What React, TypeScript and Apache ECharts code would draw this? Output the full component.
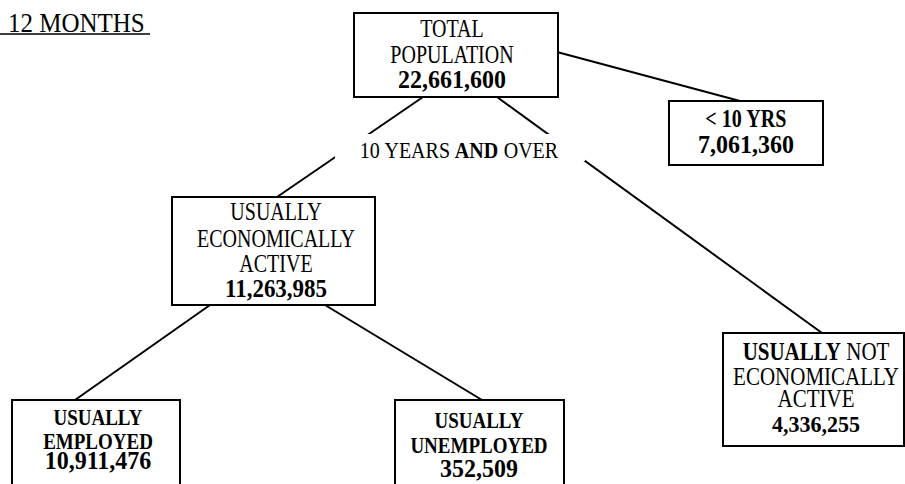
import React, { useEffect, useRef } from "react";
import * as echarts from "echarts";

// ---------- data ----------
const headerText = "12 MONTHS";
const branchWords = ["10", "YEARS", "AND", "OVER"];
const nodeLabels: string[][] = [
  ["TOTAL", "POPULATION"],
  ["< 10 YRS"],
  ["USUALLY", "ECONOMICALLY", "ACTIVE"],
  ["USUALLY NOT", "ECONOMICALLY", "ACTIVE"],
  ["USUALLY", "EMPLOYED"],
  ["USUALLY", "UNEMPLOYED"],
];
const nodeValues = [22661600, 7061360, 11263985, 4336255, 10911476, 352509];
const links: [number, number][] = [
  [0, 1],
  [0, 2],
  [0, 3],
  [2, 4],
  [2, 5],
];

// ---------- layout (diagram units on a 905 x 484 plane) ----------
const boxLayout = [
  { x0: 354, y0: 13, x1: 558, y1: 97, cx: 452, base: [37, 63, 88] },
  { x0: 669, y0: 101, x1: 823, y1: 165, cx: 746, base: [127, 153] },
  { x0: 172, y0: 197, x1: 375, y1: 305, cx: 276, base: [220, 247, 272, 297] },
  { x0: 723, y0: 333, x1: 904, y1: 446, cx: 816, base: [360, 385, 407, 432] },
  { x0: 12, y0: 400, x1: 180, y1: 492, cx: 98, base: [425, 449, 469] },
  { x0: 395, y0: 400, x1: 564, y1: 492, cx: 479, base: [428, 453, 477] },
];
const linkAnchors: number[][][] = [
  [[557, 52], [740, 101]],
  [[423, 97], [277, 197]],
  [[497, 97], [822, 333]],
  [[210, 305], [75, 400]],
  [[325, 305], [482, 400]],
];
const branchLayout = { x0: 335, y0: 134, x1: 585, y1: 161, cx: 459, base: 158 };

// ---------- styles ----------
const FONT = '"Liberation Serif", "Times New Roman", Times, serif';
const INK = "#000";
const nodeStyle = [
  { fs: 20, nfs: 24, bold: [] as string[] },
  { fs: 20, nfs: 24, bold: ["*"] },
  { fs: 20, nfs: 23, bold: [] },
  { fs: 21, nfs: 22, bold: ["USUALLY"] },
  { fs: 19, nfs: 24, bold: ["*"] },
  { fs: 19, nfs: 24, bold: ["*"] },
];
const LABEL_SY = 1.22;
const NUM_SY = 1.08;

function richLine(line: string, bold: string[]) {
  const words = line.split(" ");
  return words
    .map((w, k) => {
      const isBold = bold.includes("*") || bold.includes(w);
      return `{${isBold ? "b" : "r"}|${k > 0 ? " " : ""}${w}}`;
    })
    .join("");
}

function richStyles(fs: number) {
  return {
    b: { fontFamily: FONT, fontSize: fs, fontWeight: "bold", fill: INK },
    r: { fontFamily: FONT, fontSize: fs, fontWeight: "normal", fill: INK },
  };
}

function textEl(x: number, baseY: number, text: string, fs: number, sy: number) {
  return {
    type: "text",
    x,
    y: baseY - 0.3375 * fs * sy,
    scaleY: sy,
    style: {
      text,
      fill: INK,
      fontFamily: FONT,
      fontSize: fs,
      align: "center",
      verticalAlign: "middle",
      rich: richStyles(fs),
    },
  };
}

export default function App() {
  const ref = useRef<HTMLDivElement>(null);

  useEffect(() => {
    if (!ref.current) return;
    const chart = echarts.init(ref.current, undefined, { renderer: "svg" });

    const option: any = {
      animation: false,
      backgroundColor: "#fff",
      grid: { left: 0, right: 0, top: 0, bottom: 0 },
      xAxis: { type: "value", min: 0, max: 905, show: false },
      yAxis: { type: "value", min: 0, max: 484, inverse: true, show: false },
      graphic: [
        {
          type: "text",
          x: 8,
          y: 32 - 0.3375 * 25 * 1.12,
          scaleY: 1.12,
          style: {
            text: headerText,
            fill: INK,
            fontFamily: FONT,
            fontSize: 25,
            align: "left",
            verticalAlign: "middle",
          },
        },
        {
          type: "line",
          shape: { x1: 0, y1: 34, x2: 150, y2: 34 },
          style: { stroke: INK, lineWidth: 1.5 },
        },
      ],
      series: [
        {
          type: "lines",
          coordinateSystem: "cartesian2d",
          z: 1,
          silent: true,
          lineStyle: { color: INK, width: 2, opacity: 1, curveness: 0 },
          data: links.map((l, k) => ({
            name: `${l[0]}-${l[1]}`,
            coords: linkAnchors[k],
          })),
        },
        {
          type: "custom",
          coordinateSystem: "cartesian2d",
          z: 3,
          silent: true,
          data: nodeValues.map((v, i) => [i, v]),
          renderItem: (_params: any, api: any) => {
            const i = api.value(0) as number;
            const L = boxLayout[i];
            const S = nodeStyle[i];
            const p0 = api.coord([L.x0, L.y0]);
            const p1 = api.coord([L.x1, L.y1]);
            const children: any[] = [
              {
                type: "rect",
                shape: { x: p0[0], y: p0[1], width: p1[0] - p0[0], height: p1[1] - p0[1] },
                style: { fill: "#fff", stroke: INK, lineWidth: 2 },
              },
            ];
            nodeLabels[i].forEach((line, j) => {
              const p = api.coord([L.cx, L.base[j]]);
              children.push(textEl(p[0], p[1], richLine(line, S.bold), S.fs, LABEL_SY));
            });
            const pn = api.coord([L.cx, L.base[nodeLabels[i].length]]);
            const num = (api.value(1) as number).toLocaleString("en-US");
            children.push(textEl(pn[0], pn[1], `{b|${num}}`, S.nfs, NUM_SY));
            return { type: "group", children };
          },
        },
        {
          type: "custom",
          coordinateSystem: "cartesian2d",
          z: 4,
          silent: true,
          data: [[0]],
          renderItem: (_params: any, api: any) => {
            const B = branchLayout;
            const p0 = api.coord([B.x0, B.y0]);
            const p1 = api.coord([B.x1, B.y1]);
            const pt = api.coord([B.cx, B.base]);
            const text = branchWords
              .map((w, k) => `{${w === "AND" ? "b" : "r"}|${k > 0 ? " " : ""}${w}}`)
              .join("");
            return {
              type: "group",
              children: [
                {
                  type: "rect",
                  shape: { x: p0[0], y: p0[1], width: p1[0] - p0[0], height: p1[1] - p0[1] },
                  style: { fill: "#fff", stroke: null },
                },
                textEl(pt[0], pt[1], text, 20, 1.15),
              ],
            };
          },
        },
      ],
    };

    chart.setOption(option);
    return () => chart.dispose();
  }, []);

  return (
    <div
      ref={ref}
      style={{ position: "fixed", left: 0, top: 0, width: 905, height: 484, background: "#fff" }}
    />
  );
}
